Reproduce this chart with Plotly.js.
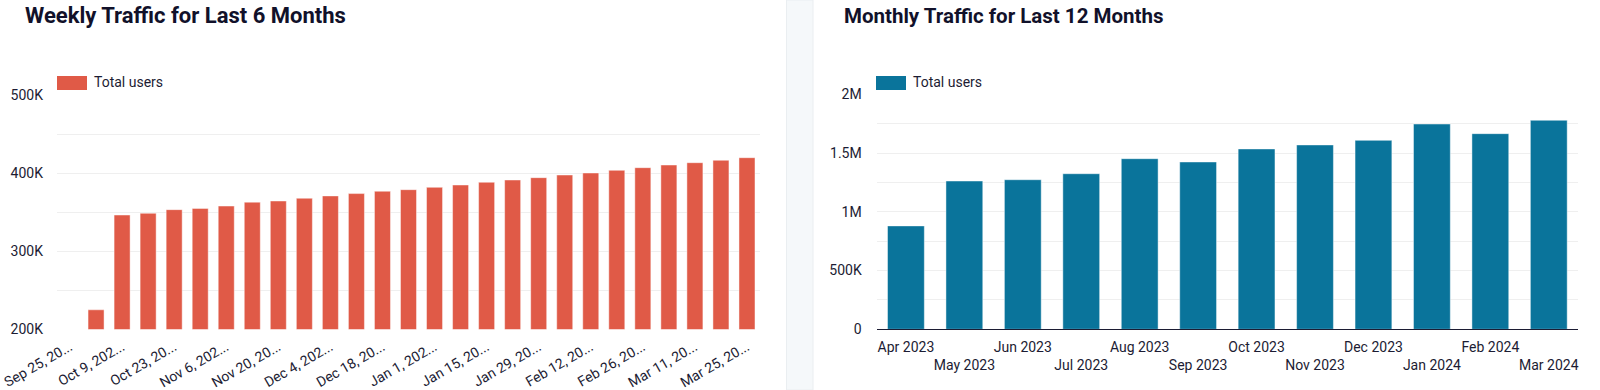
<!DOCTYPE html>
<html><head><meta charset="utf-8">
<script src="https://cdn.plot.ly/plotly-3.0.1.min.js"></script>
<style>html,body{margin:0;padding:0;background:#fff;overflow:hidden}#chart{width:1600px;height:390px}</style>
</head><body><div id="chart"></div>
<script>
// ---- Weekly data (left chart) ----
const weeklyDates = ['Sep 25, 2023','Oct 2, 2023','Oct 9, 2023','Oct 16, 2023','Oct 23, 2023','Oct 30, 2023',
  'Nov 6, 2023','Nov 13, 2023','Nov 20, 2023','Nov 27, 2023','Dec 4, 2023','Dec 11, 2023','Dec 18, 2023',
  'Dec 25, 2023','Jan 1, 2024','Jan 8, 2024','Jan 15, 2024','Jan 22, 2024','Jan 29, 2024','Feb 5, 2024',
  'Feb 12, 2024','Feb 19, 2024','Feb 26, 2024','Mar 4, 2024','Mar 11, 2024','Mar 18, 2024','Mar 25, 2024'];
const weeklyUsers = [null, 225000, 346500, 348700, 353400, 355000, 358000, 363000, 364500, 368000, 371000,
  374000, 377000, 379000, 382000, 385000, 388500, 391400, 394400, 397800, 400400, 403800, 407200,
  410600, 413600, 416700, 420000];
const weeklyTickVals = ['Sep 25, 2023','Oct 9, 2023','Oct 23, 2023','Nov 6, 2023','Nov 20, 2023','Dec 4, 2023',
  'Dec 18, 2023','Jan 1, 2024','Jan 15, 2024','Jan 29, 2024','Feb 12, 2024','Feb 26, 2024','Mar 11, 2024','Mar 25, 2024'];
const weeklyTickText = ['Sep 25, 20...','Oct 9, 202...','Oct 23, 20...','Nov 6, 202...','Nov 20, 20...','Dec 4, 202...',
  'Dec 18, 20...','Jan 1, 202...','Jan 15, 20...','Jan 29, 20...','Feb 12, 20...','Feb 26, 20...','Mar 11, 20...','Mar 25, 20...'];
const weeklyYTickVals = [200000, 250000, 300000, 350000, 400000, 450000, 500000];
const weeklyYTickText = ['200K', '', '300K', '', '400K', '', '500K'];

// ---- Monthly data (right chart) ----
const monthlyMonths = ['Apr 2023','May 2023','Jun 2023','Jul 2023','Aug 2023','Sep 2023',
  'Oct 2023','Nov 2023','Dec 2023','Jan 2024','Feb 2024','Mar 2024'];
const monthlyUsers = [880000, 1262000, 1273000, 1324000, 1452000, 1424000,
  1535000, 1569000, 1608000, 1747000, 1665000, 1779000];
const monthlyTickText = ['Apr 2023','\u00a0<br>May 2023','Jun 2023','\u00a0<br>Jul 2023','Aug 2023','\u00a0<br>Sep 2023',
  'Oct 2023','\u00a0<br>Nov 2023','Dec 2023','\u00a0<br>Jan 2024','Feb 2024','\u00a0<br>Mar 2024'];
const monthlyYTickVals = [0, 250000, 500000, 750000, 1000000, 1250000, 1500000, 1750000, 2000000];
const monthlyYTickText = ['0', '', '500K', '', '1M', '', '1.5M', '', '2M'];

const W = 1600, H = 390;
const px = x => x / W;
const py = y => 1 - y / H;

const TXT = '#1c1c33';
const GRID = '#efefef';
const RED = '#e05a47';
const BLUE = '#0a749b';
const FONT = 'Roboto, Arial, sans-serif';

const traces = [
  {type: 'bar', x: weeklyDates, y: weeklyUsers, name: 'Total users', xaxis: 'x', yaxis: 'y',
   marker: {color: RED, line: {color: 'rgba(255,255,255,0.45)', width: 1}}, width: 0.615,
   showlegend: false, hoverinfo: 'x+y'},
  {type: 'bar', x: monthlyMonths, y: monthlyUsers, name: 'Total users', xaxis: 'x2', yaxis: 'y2',
   marker: {color: BLUE, line: {color: 'rgba(255,255,255,0.45)', width: 1}}, width: 0.63,
   showlegend: false, hoverinfo: 'x+y'}
];

const layout = {
  width: W, height: H,
  margin: {l: 0, r: 0, t: 0, b: 0},
  paper_bgcolor: '#ffffff', plot_bgcolor: 'rgba(0,0,0,0)',
  font: {family: FONT, size: 14, color: TXT},
  showlegend: false,
  xaxis: {domain: [px(57), px(760)], type: 'category', tickmode: 'array',
    tickvals: weeklyTickVals, ticktext: weeklyTickText, tickangle: -30,
    showgrid: false, showline: false, zeroline: false, ticks: '', ticklabelstandoff: 6,
    tickfont: {size: 14, color: TXT}, fixedrange: true},
  yaxis: {domain: [py(329.3), py(95.3)], range: [200000, 500000], tickmode: 'array',
    tickvals: weeklyYTickVals, ticktext: weeklyYTickText, showgrid: true, gridcolor: GRID, gridwidth: 1,
    zeroline: false, showline: false, ticks: '', ticklabelstandoff: 13,
    tickfont: {size: 14, color: TXT}, fixedrange: true},
  xaxis2: {domain: [px(876.7), px(1578)], type: 'category', anchor: 'y2', tickmode: 'array',
    tickvals: monthlyMonths, ticktext: monthlyTickText, tickangle: 0,
    showgrid: false, showline: true, linecolor: '#1c1c33', linewidth: 1, zeroline: false,
    ticks: '', ticklabelstandoff: 5, tickfont: {size: 14, color: TXT}, fixedrange: true},
  yaxis2: {domain: [py(329.3), py(94.3)], range: [0, 2000000], anchor: 'x2', tickmode: 'array',
    tickvals: monthlyYTickVals, ticktext: monthlyYTickText, showgrid: true, gridcolor: GRID, gridwidth: 1,
    zeroline: false, showline: false, ticks: '', ticklabelstandoff: 14,
    tickfont: {size: 14, color: TXT}, fixedrange: true},
  shapes: [
    {type: 'rect', xref: 'paper', yref: 'paper', x0: px(786.5), x1: px(813), y0: 0, y1: 1,
     fillcolor: '#f5f8fa', line: {color: '#eaeef1', width: 1}, layer: 'below'},
    {type: 'rect', xref: 'paper', yref: 'paper', x0: px(57), x1: px(87), y0: py(90), y1: py(76),
     fillcolor: RED, line: {width: 0}},
    {type: 'rect', xref: 'paper', yref: 'paper', x0: px(876), x1: px(906), y0: py(90), y1: py(76),
     fillcolor: BLUE, line: {width: 0}}
  ],
  annotations: [
    {text: '<b>Weekly Traffic for Last 6 Months</b>', xref: 'paper', yref: 'paper', x: px(23), y: py(16),
     xanchor: 'left', yanchor: 'middle', showarrow: false, font: {family: FONT, size: 22, color: '#11112a'}},
    {text: '<b>Monthly Traffic for Last 12 Months</b>', xref: 'paper', yref: 'paper', x: px(842), y: py(16),
     xanchor: 'left', yanchor: 'middle', showarrow: false, font: {family: FONT, size: 20.5, color: '#11112a'}},
    {text: 'Total users', xref: 'paper', yref: 'paper', x: px(92), y: py(82),
     xanchor: 'left', yanchor: 'middle', showarrow: false, font: {family: FONT, size: 14, color: TXT}},
    {text: 'Total users', xref: 'paper', yref: 'paper', x: px(911), y: py(82),
     xanchor: 'left', yanchor: 'middle', showarrow: false, font: {family: FONT, size: 14, color: TXT}}
  ]
};

Plotly.newPlot('chart', traces, layout, {displayModeBar: false, staticPlot: true});
</script>
</body></html>
